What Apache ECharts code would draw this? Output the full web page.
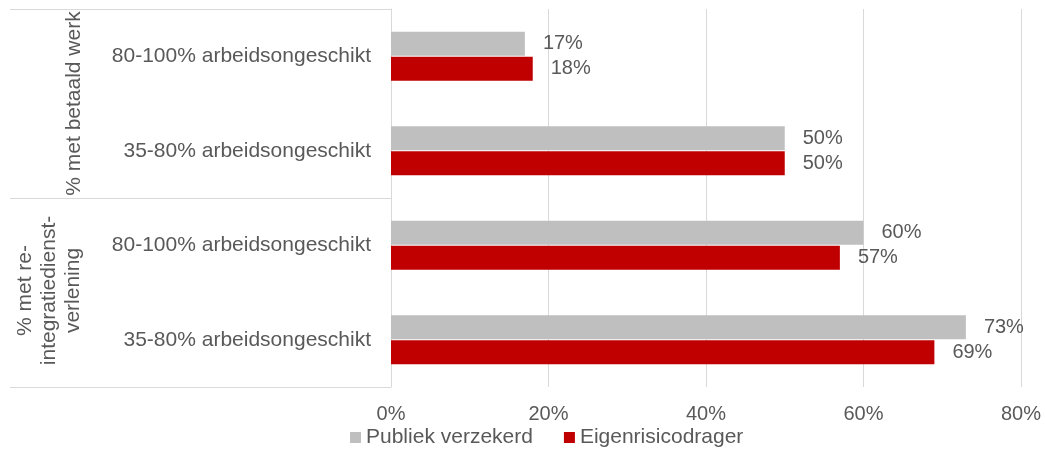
<!DOCTYPE html>
<html>
<head>
<meta charset="utf-8">
<script src="https://cdn.jsdelivr.net/npm/echarts@6/dist/echarts.min.js"></script>
<style>html,body{margin:0;padding:0;background:#fff}#c{width:1045px;height:451px}</style>
</head>
<body>
<div id="c"></div>
<script>
const categories = ['80-100% arbeidsongeschikt', '35-80% arbeidsongeschikt', '80-100% arbeidsongeschikt', '35-80% arbeidsongeschikt'];
const groups = ['% met betaald werk', '% met re-\nintegratiedienst-\nverlening'];
const seriesNames = ['Publiek verzekerd', 'Eigenrisicodrager'];
const publiek = [17, 50, 60, 73];
const eigen = [18, 50, 57, 69];
const xTicks = [0, 20, 40, 60, 80];

const FONT = '"Liberation Sans", Arial, sans-serif';
const TXT = '#595959';
const LINE = '#d9d9d9';
const G = {left: 391, right: 24, top: 9, bottom: 64};
const W = 1045, H = 451;
const plotTop = G.top, plotBot = H - G.bottom;
const mid = (plotTop + plotBot) / 2;

const chart = echarts.init(document.getElementById('c'), null, {renderer: 'canvas'});
const lbl = {show: true, position: 'right', distance: 18, color: TXT, fontSize: 20, fontFamily: FONT, formatter: p => p.value + '%'};
chart.setOption({
  animation: false,
  textStyle: {fontFamily: FONT},
  grid: G,
  legend: {
    left: 350, top: 427, padding: 0, icon: 'rect', itemWidth: 11, itemHeight: 11, itemGap: 31,
    textStyle: {color: TXT, fontSize: 21, fontFamily: FONT},
    data: seriesNames
  },
  xAxis: {
    type: 'value', min: xTicks[0], max: xTicks[xTicks.length - 1], interval: 20,
    axisLabel: {color: TXT, fontSize: 20, fontFamily: FONT, margin: 17, formatter: v => v + '%'},
    axisLine: {show: false}, axisTick: {show: false},
    splitLine: {show: true, lineStyle: {color: LINE, width: 1}}
  },
  yAxis: {
    type: 'category', inverse: true,
    data: categories.map((c, i) => String(i)),
    axisLabel: {color: TXT, fontSize: 21, fontFamily: FONT, margin: 20, formatter: (v, i) => categories[i]},
    axisLine: {show: true, lineStyle: {color: LINE, width: 1}},
    axisTick: {show: false}
  },
  series: [
    {name: seriesNames[0], type: 'bar', data: publiek, itemStyle: {color: '#bfbfbf'}, barWidth: 24, barGap: '4%', label: lbl},
    {name: seriesNames[1], type: 'bar', data: eigen, itemStyle: {color: '#c00000'}, barWidth: 24, barGap: '4%', label: lbl}
  ],
  graphic: [
    {type: 'line', shape: {x1: 10, y1: plotTop + 0.5, x2: G.left, y2: plotTop + 0.5}, style: {stroke: LINE, lineWidth: 1}},
    {type: 'line', shape: {x1: 10, y1: Math.round(mid) + 0.5, x2: G.left, y2: Math.round(mid) + 0.5}, style: {stroke: LINE, lineWidth: 1}},
    {type: 'line', shape: {x1: 10, y1: plotBot + 0.5, x2: G.left, y2: plotBot + 0.5}, style: {stroke: LINE, lineWidth: 1}},
    {type: 'text', x: 74, y: (plotTop + mid) / 2, rotation: Math.PI / 2,
      style: {text: groups[0], fill: TXT, font: '21px ' + FONT, align: 'center', verticalAlign: 'middle'}},
    {type: 'text', x: 49, y: (mid + plotBot) / 2 - 2, rotation: Math.PI / 2,
      style: {text: groups[1], fill: TXT, font: '21px ' + FONT, align: 'center', verticalAlign: 'middle', lineHeight: 24}}
  ]
});
</script>
</body>
</html>
